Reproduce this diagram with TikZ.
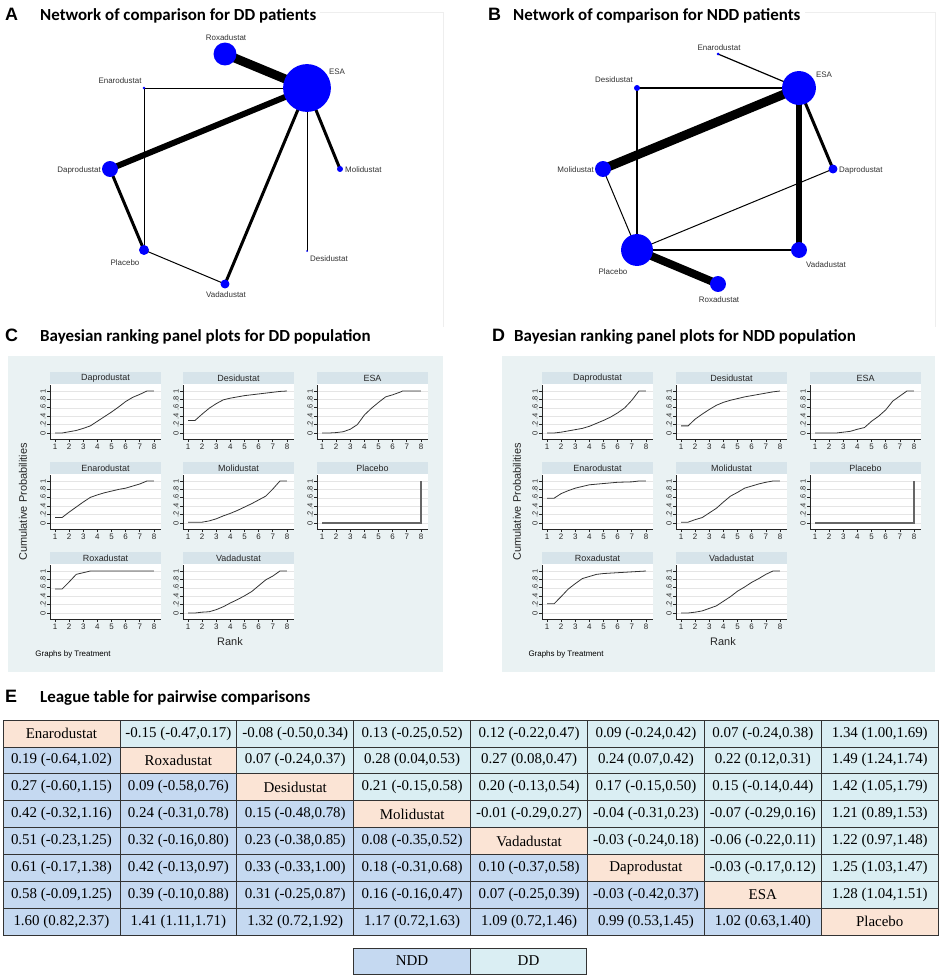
\documentclass[tikz,border=0pt]{standalone}
\usepackage{fontspec}
\setmainfont{Liberation Serif}
\newfontfamily\titlefont{Carlito}
\newfontfamily\plotfont{Liberation Sans}
\usetikzlibrary{backgrounds}
\definecolor{nodeBlue}{RGB}{0,0,255}
\definecolor{panelBg}{RGB}{234,242,243}
\definecolor{stripFill}{RGB}{215,228,234}
\definecolor{diagFill}{RGB}{251,228,213}
\definecolor{nddFill}{RGB}{197,217,241}
\definecolor{ddFill}{RGB}{218,238,243}
\definecolor{frameGray}{RGB}{238,238,238}

\tikzset{
  paneltag/.style={anchor=base west, inner sep=0pt, font=\plotfont\fontsize{18}{18}\selectfont\bfseries},
  paneltitle/.style={anchor=base west, inner sep=0pt, font=\titlefont\fontsize{17}{17}\selectfont\bfseries},
  netnode/.style={circle, fill=nodeBlue, inner sep=0pt},
  netlabel/.style={inner sep=0pt, text=black!80, font=\plotfont\fontsize{8}{8}\selectfont},
  striptext/.style={inner sep=0pt, text=black!85, font=\plotfont\fontsize{9}{9}\selectfont},
  gridline/.style={black!10, line width=0.5pt},
  axisline/.style={black!85, line width=0.7pt},
  ytick/.style={rotate=90, anchor=south, inner sep=1pt, font=\plotfont\fontsize{7.5}{7.5}\selectfont},
  xtick/.style={anchor=north, inner sep=1.5pt, font=\plotfont\fontsize{8}{8}\selectfont},
  rankcurve/.style={black!80, line width=0.8pt},
  placebocurve/.style={black!60, line width=1.2pt},
  axistitle/.style={inner sep=0pt, text=black!85, font=\plotfont\fontsize{11}{11}\selectfont},
  leaguecell/.style={draw=black!80, line width=0.8pt, minimum width=116.9bp, minimum height=26.9bp,
    inner sep=0pt, font=\fontsize{15}{15}\selectfont},
}

% one facet of the ranking plots: [curve style]{id}{x}{y}{title}{points}
\newcommand{\rankpanel}[6][rankcurve]{%
  \fill[stripFill] (#3,#4) rectangle ++(111,12);
  \node[striptext] (#2-strip) at (#3+55.5,#4+6) {#5};
  \fill[white] (#3,#4+12) rectangle ++(111,55);
  \foreach \v in {0,0.2,0.4,0.6,0.8,1}
    \draw[gridline] (#3,#4+61-42*\v) -- ++(111,0);
  \draw[axisline] (#3,#4+13) -- (#3,#4+67) -- (#3+111,#4+67);
  \foreach \v/\t in {0/0,0.2/.2,0.4/.4,0.6/.6,0.8/.8,1/1}
    \draw[axisline] (#3,#4+61-42*\v) -- ++(-3,0) node[ytick] {\t};
  \foreach \r in {1,...,8}
    \draw[axisline] (#3+5+14.14*\r-14.14,#4+67) -- ++(0,3) node[xtick] {\r};
  \begin{scope}[shift={(#3-9.14,#4+61)},x=14.14bp,y=42bp]
    \draw[#1] plot coordinates {#6};
  \end{scope}}

% league table cell: {row}{col}{text}
\newcommand{\lcell}[3]{%
  \ifnum#1=#2 \def\cellfill{diagFill}\else\ifnum#1>#2 \def\cellfill{nddFill}\else\def\cellfill{ddFill}\fi\fi
  \node[leaguecell, fill=\cellfill] (cell-#1-#2) at ({3+116.9*(#2-0.5)},{720+26.9*(#1-0.5)}) {#3};}
\newcommand{\lrow}[9]{%
  \lcell{#1}{1}{#2}\lcell{#1}{2}{#3}\lcell{#1}{3}{#4}\lcell{#1}{4}{#5}%
  \lcell{#1}{5}{#6}\lcell{#1}{6}{#7}\lcell{#1}{7}{#8}\lcell{#1}{8}{#9}}

\begin{document}
\begin{tikzpicture}[x=1bp, y=-1bp]
\useasboundingbox (0,0) rectangle (941,978);

% Panel titles
\node[paneltag] (tagA) at (5,20) {A};
\node[paneltitle] (titleA) at (40,20) {Network of comparison for DD patients};
\node[paneltag] (tagB) at (488,20) {B};
\node[paneltitle] (titleB) at (513,20) {Network of comparison for NDD patients};
\node[paneltag] (tagC) at (5,341) {C};
\node[paneltitle] (titleC) at (40,341) {Bayesian ranking panel plots for DD population};
\node[paneltag] (tagD) at (492,341) {D};
\node[paneltitle] (titleD) at (514,341) {Bayesian ranking panel plots for NDD population};
\node[paneltag] (tagE) at (5,702) {E};
\node[paneltitle] (titleE) at (40,702) {League table for pairwise comparisons};

% faint graph frames
\draw[frameGray] (320,12) -- (443,12) -- (443,327);
\draw[frameGray] (805,12) -- (935,12) -- (935,327);

% Network A (DD)
\node[netnode, minimum size=48] (aESA) at (307,88) {};
\node[netnode, minimum size=23] (aRox) at (225,54) {};
\node[netnode, minimum size=3] (aEna) at (144,88) {};
\node[netnode, minimum size=16] (aDap) at (110,169) {};
\node[netnode, minimum size=6] (aMol) at (340,169) {};
\node[netnode, minimum size=10] (aPla) at (144,250) {};
\node[netnode, minimum size=9] (aVad) at (225,284) {};
\node[netnode, minimum size=2] (aDes) at (307,251) {};
\node[netlabel] (aESAl) at (337,72) {ESA};
\node[netlabel] (aRoxl) at (226,38) {Roxadustat};
\node[netlabel] (aEnal) at (120,81) {Enarodustat};
\node[netlabel, anchor=east] (aDapl) at (101,170) {Daprodustat};
\node[netlabel, anchor=west] (aMoll) at (345,170) {Molidustat};
\node[netlabel] (aPlal) at (125,263) {Placebo};
\node[netlabel] (aVadl) at (226,295) {Vadadustat};
\node[netlabel] (aDesl) at (329,259) {Desidustat};
\begin{scope}[on background layer]
  \draw[line width=9] (aRox.center) -- (aESA.center);
  \draw[line width=6] (aDap.center) -- (aESA.center);
  \draw[line width=3] (aDap.center) -- (aPla.center);
  \draw[line width=3] (aVad.center) -- (aESA.center);
  \draw[line width=3] (aMol.center) -- (aESA.center);
  \draw[line width=1] (aEna.center) -- (aESA.center);
  \draw[line width=1] (aEna.center) -- (aPla.center);
  \draw[line width=1] (aPla.center) -- (aVad.center);
  \draw[line width=1] (aDes.center) -- (aESA.center);
\end{scope}

% Network B (NDD)
\node[netnode, minimum size=34] (bESA) at (799,88) {};
\node[netnode, minimum size=3] (bEna) at (718,54) {};
\node[netnode, minimum size=6] (bDes) at (637,88) {};
\node[netnode, minimum size=16] (bMol) at (603,169) {};
\node[netnode, minimum size=9] (bDap) at (833,169) {};
\node[netnode, minimum size=32] (bPla) at (637,250) {};
\node[netnode, minimum size=16] (bVad) at (799,250) {};
\node[netnode, minimum size=16] (bRox) at (718,284) {};
\node[netlabel] (bESAl) at (824,75) {ESA};
\node[netlabel] (bEnal) at (719,48) {Enarodustat};
\node[netlabel] (bDesl) at (614,80) {Desidustat};
\node[netlabel, anchor=east] (bMoll) at (594,170) {Molidustat};
\node[netlabel, anchor=west] (bDapl) at (839,170) {Daprodustat};
\node[netlabel] (bPlal) at (613,272) {Placebo};
\node[netlabel] (bVadl) at (826,265) {Vadadustat};
\node[netlabel] (bRoxl) at (719,300) {Roxadustat};
\begin{scope}[on background layer]
  \draw[line width=9] (bMol.center) -- (bESA.center);
  \draw[line width=8] (bPla.center) -- (bRox.center);
  \draw[line width=6] (bESA.center) -- (bVad.center);
  \draw[line width=3] (bESA.center) -- (bDap.center);
  \draw[line width=2] (bPla.center) -- (bVad.center);
  \draw[line width=1.2] (bEna.center) -- (bESA.center);
  \draw[line width=1.2] (bDes.center) -- (bESA.center);
  \draw[line width=1.2] (bDes.center) -- (bPla.center);
  \draw[line width=1] (bMol.center) -- (bPla.center);
  \draw[line width=1] (bDap.center) -- (bPla.center);
\end{scope}

% Ranking plots, DD
\fill[panelBg] (8,356) rectangle (443,672);
\rankpanel{cDap}{50}{372}{Daprodustat}{(1,0) (1.5,0) (2,.03) (2.5,.06) (3,.11) (3.5,.17) (4,.28) (4.5,.39) (5,.5) (5.5,.62) (6,.75) (6.5,.85) (7,.92) (7.5,1) (8,1)}
\rankpanel{cDes}{183}{372}{Desidustat}{(1,.3) (1.5,.3) (2,.45) (2.5,.59) (3,.7) (3.5,.79) (4,.83) (4.5,.86) (5,.89) (5.5,.91) (6,.93) (6.5,.95) (7,.97) (7.5,.99) (8,1)}
\rankpanel{cESA}{317}{372}{ESA}{(1,0) (1.5,0) (2,.01) (2.5,.03) (3,.09) (3.5,.2) (4,.43) (4.5,.59) (5,.73) (5.5,.86) (6,.91) (6.5,.97) (6.7,1) (8,1)}
\rankpanel{cEna}{50}{462}{Enarodustat}{(1,.13) (1.5,.13) (2,.26) (2.5,.38) (3,.5) (3.5,.61) (4,.67) (4.5,.72) (5,.76) (5.5,.8) (6,.83) (6.5,.88) (7,.93) (7.5,1) (8,1)}
\rankpanel{cMol}{183}{462}{Molidustat}{(1,.02) (2,.02) (2.5,.05) (3,.1) (3.5,.17) (4,.23) (4.5,.3) (5,.38) (5.5,.46) (6,.55) (6.5,.64) (7,.81) (7.5,1) (8,1)}
\rankpanel[placebocurve]{cPla}{317}{462}{Placebo}{(1,0) (8,0) (8,1)}
\rankpanel{cRox}{50}{552}{Roxadustat}{(1,.57) (1.5,.57) (2,.74) (2.5,.92) (3,.96) (3.5,1) (8,1)}
\rankpanel{cVad}{183}{552}{Vadadustat}{(1,0) (1.5,0) (2,.02) (2.5,.03) (3,.08) (3.5,.15) (4,.24) (4.5,.32) (5,.41) (5.5,.51) (6,.65) (6.5,.79) (7,.88) (7.5,1) (8,1)}
\node[axistitle, rotate=90] (cYlab) at (23,502) {Cumulative Probabilities};
\node[axistitle] (cXlab) at (230,642) {Rank};
\node[netlabel, text=black] (cNote) at (73,654) {Graphs by Treatment};

% Ranking plots, NDD
\fill[panelBg] (502,356) rectangle (935,672);
\rankpanel{dDap}{542}{372}{Daprodustat}{(1,0) (1.5,0) (2,.02) (2.5,.05) (3,.08) (3.5,.11) (4,.16) (4.5,.23) (5,.3) (5.5,.38) (6,.48) (6.5,.6) (7,.78) (7.5,1) (8,1)}
\rankpanel{dDes}{676}{372}{Desidustat}{(1,.17) (1.5,.17) (2,.33) (2.5,.45) (3,.56) (3.5,.66) (4,.73) (4.5,.78) (5,.82) (5.5,.86) (6,.89) (6.5,.92) (7,.95) (7.5,.98) (8,1)}
\rankpanel{dESA}{810}{372}{ESA}{(1,0) (2.5,0) (3,.02) (3.5,.04) (4,.09) (4.5,.13) (5,.28) (5.5,.4) (6,.55) (6.5,.76) (7,.88) (7.5,1) (8,1)}
\rankpanel{dEna}{542}{462}{Enarodustat}{(1,.59) (1.5,.59) (2,.7) (2.5,.77) (3,.83) (3.5,.87) (4,.91) (5,.94) (6,.97) (7,.98) (7.5,1) (8,1)}
\rankpanel{dMol}{676}{462}{Molidustat}{(1,.02) (1.5,.02) (2,.08) (2.5,.13) (3,.24) (3.5,.35) (4,.5) (4.5,.64) (5,.73) (5.5,.83) (6,.88) (6.5,.93) (7,.97) (7.5,1) (8,1)}
\rankpanel[placebocurve]{dPla}{810}{462}{Placebo}{(1,0) (8,0) (8,1)}
\rankpanel{dRox}{542}{552}{Roxadustat}{(1,.22) (1.5,.22) (2,.39) (2.5,.57) (3,.7) (3.5,.82) (4,.87) (4.5,.92) (5,.94) (6,.96) (7,.98) (8,1)}
\rankpanel{dVad}{676}{552}{Vadadustat}{(1,0) (1.5,0) (2,.02) (2.5,.05) (3,.11) (3.5,.17) (4,.28) (4.5,.39) (5,.52) (5.5,.62) (6,.73) (6.5,.82) (7,.92) (7.5,1) (8,1)}
\node[axistitle, rotate=90] (dYlab) at (517,502) {Cumulative Probabilities};
\node[axistitle] (dXlab) at (723,642) {Rank};
\node[netlabel, text=black] (dNote) at (566,654) {Graphs by Treatment};

% League table
\lrow{1}{Enarodustat}{-0.15 (-0.47,0.17)}{-0.08 (-0.50,0.34)}{0.13 (-0.25,0.52)}{0.12 (-0.22,0.47)}{0.09 (-0.24,0.42)}{0.07 (-0.24,0.38)}{1.34 (1.00,1.69)}
\lrow{2}{0.19 (-0.64,1.02)}{Roxadustat}{0.07 (-0.24,0.37)}{0.28 (0.04,0.53)}{0.27 (0.08,0.47)}{0.24 (0.07,0.42)}{0.22 (0.12,0.31)}{1.49 (1.24,1.74)}
\lrow{3}{0.27 (-0.60,1.15)}{0.09 (-0.58,0.76)}{Desidustat}{0.21 (-0.15,0.58)}{0.20 (-0.13,0.54)}{0.17 (-0.15,0.50)}{0.15 (-0.14,0.44)}{1.42 (1.05,1.79)}
\lrow{4}{0.42 (-0.32,1.16)}{0.24 (-0.31,0.78)}{0.15 (-0.48,0.78)}{Molidustat}{-0.01 (-0.29,0.27)}{-0.04 (-0.31,0.23)}{-0.07 (-0.29,0.16)}{1.21 (0.89,1.53)}
\lrow{5}{0.51 (-0.23,1.25)}{0.32 (-0.16,0.80)}{0.23 (-0.38,0.85)}{0.08 (-0.35,0.52)}{Vadadustat}{-0.03 (-0.24,0.18)}{-0.06 (-0.22,0.11)}{1.22 (0.97,1.48)}
\lrow{6}{0.61 (-0.17,1.38)}{0.42 (-0.13,0.97)}{0.33 (-0.33,1.00)}{0.18 (-0.31,0.68)}{0.10 (-0.37,0.58)}{Daprodustat}{-0.03 (-0.17,0.12)}{1.25 (1.03,1.47)}
\lrow{7}{0.58 (-0.09,1.25)}{0.39 (-0.10,0.88)}{0.31 (-0.25,0.87)}{0.16 (-0.16,0.47)}{0.07 (-0.25,0.39)}{-0.03 (-0.42,0.37)}{ESA}{1.28 (1.04,1.51)}
\lrow{8}{1.60 (0.82,2.37)}{1.41 (1.11,1.71)}{1.32 (0.72,1.92)}{1.17 (0.72,1.63)}{1.09 (0.72,1.46)}{0.99 (0.53,1.45)}{1.02 (0.63,1.40)}{Placebo}

% Legend
\node[leaguecell, fill=nddFill, minimum width=116.5bp, minimum height=26bp] (keyNDD) at (412,961) {NDD};
\node[leaguecell, fill=ddFill, minimum width=116.5bp, minimum height=26bp] (keyDD) at (528.5,961) {DD};
\end{tikzpicture}
\end{document}
